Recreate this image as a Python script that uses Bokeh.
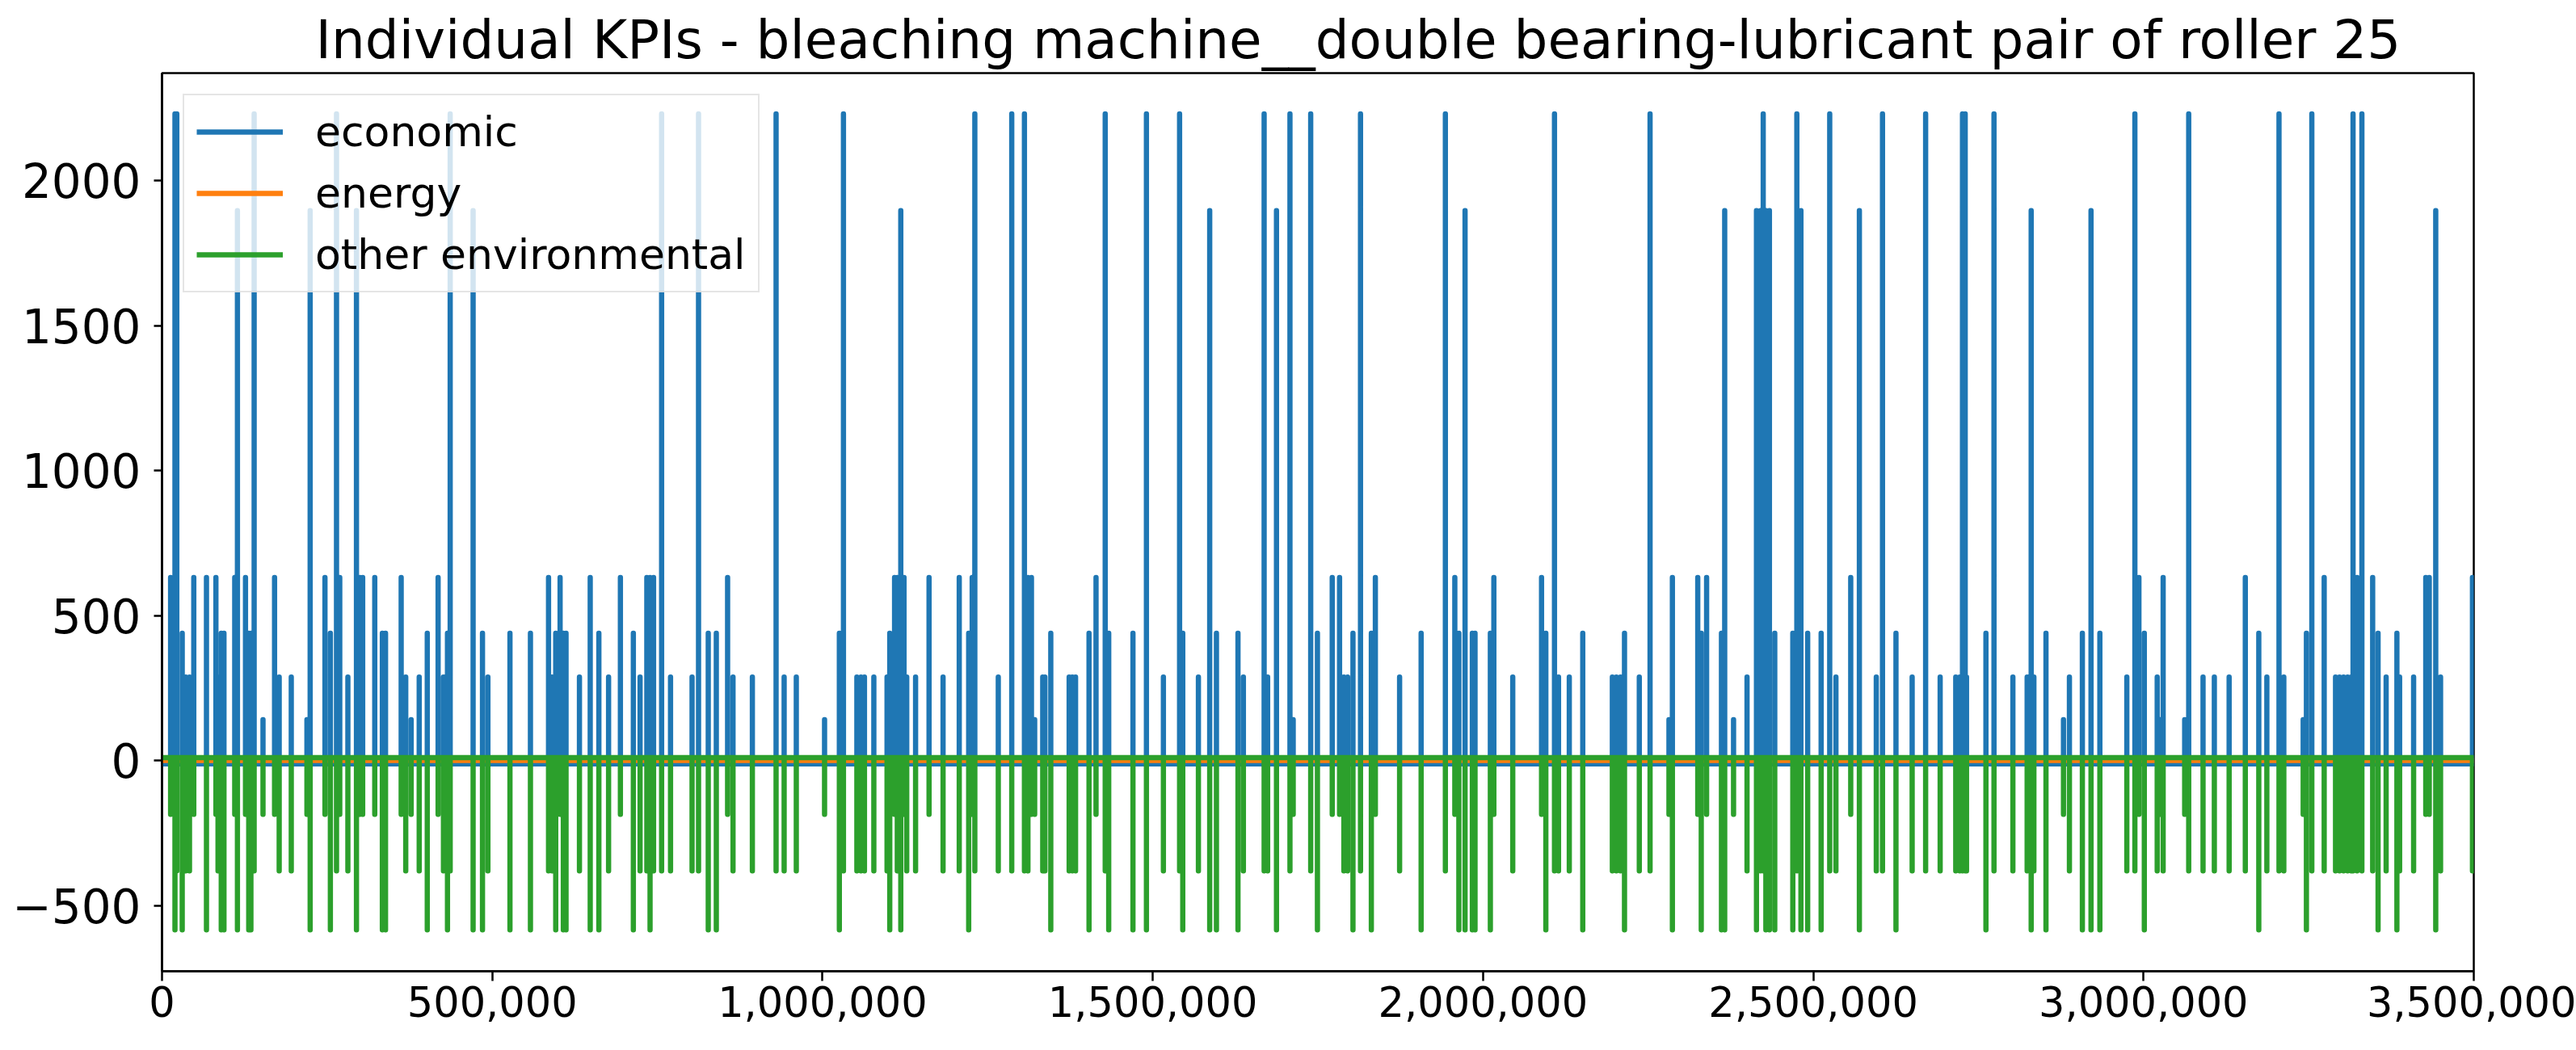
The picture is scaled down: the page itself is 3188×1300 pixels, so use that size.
from bokeh.plotting import figure
from bokeh.models import Legend, LegendItem, FixedTicker, NumeralTickFormatter, Range1d
from bokeh.embed import file_html
from bokeh.resources import INLINE

TITLE = "Individual KPIs - bleaching machine__double bearing-lubricant pair of roller 25"
series_names = ["economic", "energy", "other environmental"]
series_colors = ["#1f77b4", "#ff7f0e", "#2ca02c"]

# event positions (sample index)
ev_x = [
    13000, 19600, 22400, 30600, 35900, 41600, 48100, 67300, 81600, 84800, 89700, 93800,
    110100, 114200, 126400, 131300, 134600, 139500, 152900, 170400, 177400, 195700, 219400, 224300,
    246700, 254900, 264200, 269100, 281400, 294400, 299700, 303800, 322100, 333600, 338400, 362100,
    369000, 377200, 389400, 401600, 418000, 426100, 432200, 436300, 471000, 485200, 493400,
    526800, 557800, 585200, 590400, 596100, 602700, 607600, 611700, 632000, 648300, 661400, 676100,
    694000, 713600, 723800, 734000, 738900, 744200, 756400, 769900, 802500, 812300, 827000, 839200,
    856300, 864500, 893800, 929700, 941900, 960300,
    1003100, 1025500, 1031700, 1052000, 1058200, 1063500, 1077700, 1097700, 1101800, 1109100, 1113200,
    1118500, 1123400, 1127500, 1140900, 1161300, 1182500, 1207000, 1221300, 1226600, 1230600, 1266100,
    1286500, 1305700, 1311000, 1316300, 1321200, 1333400, 1336700, 1345600, 1373400, 1378200, 1383100,
    1403500, 1414100, 1428000, 1433300, 1470000, 1490400,
    1516100, 1540600, 1545400, 1569100, 1586200, 1596400, 1629000, 1637200, 1668600, 1673900, 1687300,
    1707700, 1712600, 1739100, 1749300, 1771700, 1782800, 1789300, 1795000, 1803100, 1814500, 1830900,
    1837000, 1873700, 1906300, 1943000, 1957300, 1963400, 1972800, 1983800, 1987900,
    2011100, 2016400, 2045000, 2088600, 2095100, 2108200, 2114300, 2130600, 2151000, 2195800, 2201900,
    2208100, 2214200, 2236600, 2252900, 2281500, 2286700, 2325100, 2330400, 2338500, 2361000, 2365900,
    2379300, 2399700, 2414000, 2420100, 2424200, 2428200, 2433600, 2441700, 2469000, 2475100, 2481300,
    2491500,
    2511900, 2524900, 2534300, 2556700, 2569800, 2595400, 2604800, 2625200, 2649700, 2670100, 2692100,
    2715700, 2721800, 2725900, 2730000, 2732000, 2761400, 2773600, 2802200, 2823800, 2829900, 2834000,
    2852300, 2878800, 2887800, 2907400, 2920500, 2933900, 2974700, 2986900, 2993000, 3001200,
    3020700, 3024800, 3029700, 3062300, 3068400, 3090100, 3107200, 3129600, 3154100, 3174500, 3186700,
    3205100, 3212400, 3241700, 3246600, 3254800, 3273500, 3290700, 3296800, 3302900, 3309000, 3314300,
    3317200, 3323300, 3330600, 3346900, 3355100, 3367300, 3383600, 3387700, 3408900, 3427300, 3432600,
    3442400, 3449700, 3498000,
]

economic_v = [
    631, 2230, 2230, 439, 288, 288, 631, 631, 631, 288, 439, 439,
    631, 1897, 631, 439, 439, 2230, 141, 631, 288, 288, 141, 1897,
    631, 439, 2230, 631, 288, 1897, 631, 631, 631, 439, 439, 631,
    288, 141, 288, 439, 631, 288, 439, 2230, 1897, 439, 288,
    439, 439, 631, 288, 439, 631, 439, 439, 288, 631, 439, 288,
    631, 439, 288, 631, 631, 631, 2230, 288, 288, 2230, 439, 439,
    631, 288, 288, 2230, 288, 288,
    141, 439, 2230, 288, 288, 288, 288, 288, 439, 631, 631,
    1897, 631, 288, 288, 631, 288, 631, 439, 631, 2230, 288,
    2230, 2230, 631, 631, 141, 288, 288, 439, 288, 288, 288,
    439, 631, 2230, 439, 439, 2230,
    288, 2230, 439, 288, 1897, 439, 439, 288, 2230, 288, 1897,
    2230, 141, 2230, 439, 631, 631, 288, 288, 439, 2230, 439,
    631, 288, 439, 2230, 631, 439, 1897, 439, 439,
    439, 631, 288, 631, 439, 2230, 288, 288, 439, 288, 288,
    288, 439, 288, 2230, 141, 631, 631, 439, 631, 439, 1897,
    141, 288, 1897, 1897, 2230, 1897, 1897, 439, 439, 2230, 1897,
    439,
    439, 2230, 288, 631, 1897, 288, 2230, 439, 288, 2230, 288,
    288, 288, 2230, 2230, 288, 439, 2230, 288, 288, 1897, 288,
    439, 141, 288, 439, 1897, 439, 288, 2230, 631, 439,
    288, 141, 631, 141, 2230, 288, 288, 288, 631, 439, 288,
    2230, 288, 141, 439, 2230, 631, 288, 288, 288, 288, 288,
    2230, 631, 2230, 631, 439, 288, 439, 288, 288, 631, 631,
    1897, 288, 631,
]

other_env_v = [
    -186, -584, -381, -584, -381, -381, -186, -584, -186, -381, -584, -584,
    -186, -584, -186, -584, -584, -381, -186, -186, -381, -381, -186, -584,
    -186, -584, -381, -186, -381, -584, -186, -186, -186, -584, -584, -186,
    -381, -186, -381, -584, -186, -381, -584, -381, -584, -584, -381,
    -584, -584, -381, -381, -584, -186, -584, -584, -381, -584, -584, -381,
    -186, -584, -381, -381, -584, -381, -381, -381, -381, -381, -584, -584,
    -186, -381, -381, -381, -381, -381,
    -186, -584, -381, -381, -381, -381, -381, -381, -584, -186, -381,
    -584, -186, -381, -381, -186, -381, -381, -584, -186, -381, -381,
    -381, -381, -381, -186, -186, -381, -381, -584, -381, -381, -381,
    -584, -186, -381, -584, -584, -584,
    -381, -381, -584, -381, -584, -584, -584, -381, -381, -381, -584,
    -381, -186, -381, -584, -186, -186, -381, -381, -584, -381, -584,
    -186, -381, -584, -381, -186, -584, -584, -584, -584,
    -584, -186, -381, -186, -584, -381, -381, -381, -584, -381, -381,
    -381, -584, -381, -381, -186, -584, -186, -584, -186, -584, -584,
    -186, -381, -584, -381, -381, -584, -584, -584, -584, -381, -584,
    -584,
    -584, -381, -381, -186, -584, -381, -381, -584, -381, -381, -381,
    -381, -381, -381, -381, -381, -584, -381, -381, -381, -584, -381,
    -584, -186, -381, -584, -584, -584, -381, -381, -186, -584,
    -381, -186, -381, -186, -381, -381, -381, -381, -381, -584, -381,
    -381, -381, -186, -584, -381, -381, -381, -381, -381, -381, -381,
    -381, -381, -381, -381, -584, -381, -584, -381, -381, -186, -186,
    -584, -381, -381,
]

economic_base = -12
energy_level = 0
other_env_base = 10

x_start, x_end = 0, 3500000
y_start, y_end = -727, 2371
x_ticks = [0, 500000, 1000000, 1500000, 2000000, 2500000, 3000000, 3500000]
y_ticks = [-500, 0, 500, 1000, 1500, 2000]


def spike_path(base, vals):
    xs, ys = [x_start], [base]
    for x, v in zip(ev_x, vals):
        xs += [x, x, x]
        ys += [base, v, base]
    xs.append(x_end)
    ys.append(base)
    return xs, ys


FONT = "DejaVu Sans"

p = figure(width=3188, height=1300, output_backend="svg", toolbar_location=None,
           x_range=Range1d(x_start, x_end), y_range=Range1d(y_start, y_end),
           min_border_left=200, min_border_right=127, min_border_top=90, min_border_bottom=98)

p.title.text = TITLE
p.title.text_font = FONT
p.title.text_font_size = "66px"
p.title.text_font_style = "normal"
p.title.text_color = "black"
p.title.align = "left"
p.title.offset = 190
p.title.standoff = 6

LW = 6.5
ex, ey = spike_path(economic_base, economic_v)
r_econ = p.line(ex, ey, line_color=series_colors[0], line_width=LW, line_join="round")
r_energy = p.line([x_start, x_end], [energy_level, energy_level], line_color=series_colors[1],
                  line_width=LW)
gx, gy = spike_path(other_env_base, other_env_v)
r_env = p.line(gx, gy, line_color=series_colors[2], line_width=LW, line_join="round")

p.xgrid.visible = False
p.ygrid.visible = False
p.outline_line_color = "black"
p.outline_line_width = 2.5

p.xaxis.ticker = FixedTicker(ticks=x_ticks)
p.xaxis.formatter = NumeralTickFormatter(format="0,0")
p.yaxis.ticker = FixedTicker(ticks=y_ticks)
p.yaxis.major_label_overrides = {-500: "\u2212500"}
for ax in (p.xaxis[0], p.yaxis[0]):
    ax.axis_line_width = 2.5
    ax.axis_line_color = "black"
    ax.major_tick_line_width = 2.5
    ax.major_tick_in = 0
    ax.minor_tick_line_color = None
    ax.major_label_text_font = FONT
    ax.major_label_text_color = "black"

p.xaxis.major_tick_out = 12
p.xaxis.major_label_standoff = 6
p.xaxis.major_label_text_font_size = "51px"
p.yaxis.major_tick_out = 10
p.yaxis.major_label_standoff = 16
p.yaxis.major_label_text_font_size = "58px"

legend = Legend(items=[
    LegendItem(label=series_names[0], renderers=[r_econ]),
    LegendItem(label=series_names[1], renderers=[r_energy]),
    LegendItem(label=series_names[2], renderers=[r_env]),
], location="top_left")
legend.label_text_font = FONT
legend.label_text_font_size = "52px"
legend.label_text_color = "black"
legend.label_height = 60
legend.glyph_height = 60
legend.glyph_width = 107
legend.label_standoff = 40
legend.spacing = 16
legend.padding = 15
legend.margin = 26
legend.border_line_color = "#cccccc"
legend.border_line_width = 2
legend.background_fill_alpha = 0.8
p.add_layout(legend)

open("out.html", "w").write(file_html(p, INLINE))
